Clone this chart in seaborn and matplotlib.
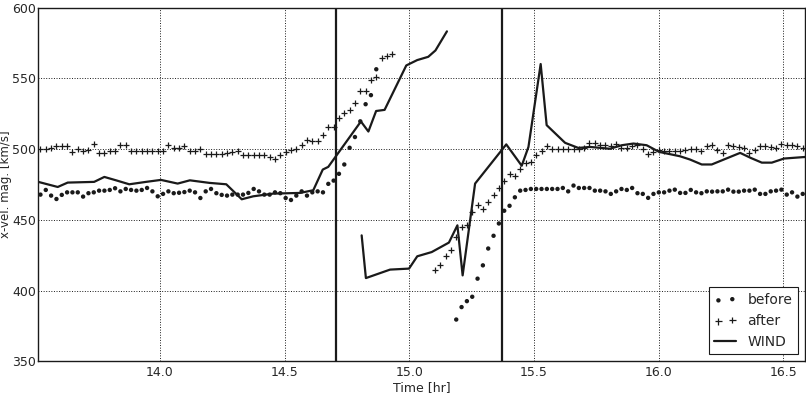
import numpy as np
import pandas as pd
import matplotlib
matplotlib.use("Agg")
import matplotlib.pyplot as plt
import seaborn as sns

# sample cadence of the spacecraft data [hr]
t_start = 13.5207
t_step = 0.02138

before = [467.9, 471.2, 467.2, 464.8, 467.7, 469.5, 469.5, 469.5, 466.5, 468.9,
          469.5, 470.7, 470.7, 471.2, 472.4, 470.2, 471.9, 471.2, 470.7, 471.2,
          472.6, 470.2, 466.7, 468.4, 470.2, 468.9, 469.2, 469.7, 470.7, 469.5,
          465.5, 470.2, 471.9, 468.9, 467.7, 467.2, 467.9, 467.9, 467.9, 469.1,
          471.9, 470.2, 467.9, 467.9, 469.5, 468.9, 465.5, 464.1, 467.2, 470.2,
          467.2, 469.5, 470.2, 469.5, 475.5, 477.8, 482.6, 489.2, 501.0, 508.6,
          519.7, 531.8, 538.2, 556.5,
          None, None, None, None, None, None, None, None, None, None, None, None, None, None,
          379.6, 388.4, 392.6, 395.7, 408.5, 417.9, 429.8, 438.8, 447.5, 456.5,
          460.0, 466.0, 470.7, 471.2, 471.9, 471.9, 471.9, 471.9, 471.9, 471.9,
          472.6, 470.2, 474.3, 472.6, 472.6, 472.6, 470.7, 470.7, 470.2, 468.4,
          470.2, 471.9, 471.2, 472.6, 468.9, 468.4, 465.6, 468.4, 469.5, 469.5,
          470.7, 471.4, 469.1, 469.1, 471.2, 469.5, 468.9, 470.2, 470.0, 470.2,
          470.2, 471.4, 470.0, 470.0, 470.7, 470.7, 471.4, 468.4, 468.4, 470.2,
          470.7, 471.4, 467.9, 469.5, 466.5, 468.4]

after = [500.3, 500.3, 501.0, 502.0, 502.0, 502.5, 498.0, 500.0, 499.0, 499.5,
         504.0, 497.5, 497.5, 499.0, 499.0, 503.0, 503.0, 498.5, 498.5, 498.5,
         498.5, 498.5, 498.5, 499.0, 503.0, 501.0, 501.0, 502.0, 498.5, 498.5,
         500.0, 496.5, 496.5, 496.5, 496.5, 497.0, 498.0, 498.6, 496.0, 495.6,
         495.6, 496.0, 496.0, 494.4, 493.0, 495.6, 498.0, 499.6, 500.4, 503.0,
         506.3, 505.5, 505.5, 510.0, 515.7, 515.7, 521.7, 525.6, 527.6, 532.7,
         541.3, 541.3, 548.9, 550.8, 564.3, 566.1, 567.3,
         None, None, None, None, None, None, None,
         414.4, 418.0, 424.6, 428.6, 438.0, 445.0, 446.6, 455.3, 460.8, 457.7,
         462.4, 467.9, 472.7, 477.8, 482.6, 481.0, 486.0, 490.0, 490.8, 495.6,
         498.6, 502.0, 500.4, 500.4, 500.4, 500.4, 500.4, 500.4, 501.0, 504.3,
         504.3, 502.7, 502.7, 502.0, 503.4, 501.0, 501.0, 502.0, 502.7, 500.4,
         496.8, 498.0, 499.7, 498.7, 498.7, 498.7, 498.7, 499.7, 500.4, 500.4,
         498.7, 502.0, 502.7, 499.7, 497.3, 502.7, 502.0, 501.5, 501.0, 497.3,
         499.1, 502.0, 502.0, 501.5, 501.0, 503.9, 502.7, 502.7, 502.0, 501.0]

wind_t1 = [13.512, 13.590, 13.630, 13.736, 13.777, 13.824, 13.877, 13.944, 14.004, 14.071,
           14.120, 14.198, 14.266, 14.328, 14.374, 14.454, 14.562, 14.615, 14.653, 14.675,
           14.806, 14.836, 14.867, 14.901, 14.988, 15.032, 15.076, 15.105, 15.151]
wind_v1 = [476.9, 473.3, 476.4, 476.9, 480.4, 478.0, 475.2, 476.9, 478.3, 475.7,
           478.0, 476.2, 475.2, 464.6, 466.7, 468.6, 469.1, 471.0, 485.6, 487.5,
           519.6, 512.5, 527.0, 527.8, 559.2, 563.0, 565.3, 569.8, 583.3]

wind_t2 = [14.809, 14.826, 14.923, 14.999, 15.032, 15.090, 15.159, 15.193, 15.214, 15.264,
           15.389, 15.451, 15.478, 15.527, 15.551, 15.625, 15.678, 15.725, 15.805, 15.852,
           15.899, 15.952, 16.002, 16.086, 16.126, 16.173, 16.213, 16.327, 16.370, 16.414,
           16.454, 16.503, 16.587]
wind_v2 = [439.1, 408.9, 414.9, 415.6, 424.3, 427.3, 434.0, 446.2, 410.8, 475.7,
           503.4, 488.3, 501.6, 560.2, 517.0, 504.5, 500.9, 501.6, 500.3, 502.8,
           504.0, 502.8, 498.1, 495.0, 492.7, 489.2, 489.2, 497.4, 493.8, 490.5,
           490.5, 493.4, 494.5]

shock_times = [14.705, 15.372]

time = t_start + t_step * np.arange(len(before))
points = pd.DataFrame({"time": time,
                       "before": pd.to_numeric(pd.Series(before), errors="coerce"),
                       "after": pd.to_numeric(pd.Series(after), errors="coerce")})
wind1 = pd.DataFrame({"time": wind_t1, "v": wind_v1})
wind2 = pd.DataFrame({"time": wind_t2, "v": wind_v2})

sns.set_theme(style="whitegrid", rc={"grid.color": "k", "grid.linestyle": ":",
                                     "grid.linewidth": 0.7, "axes.edgecolor": "k",
                                     "axes.linewidth": 1.0})
plt.rcParams["font.family"] = ["DejaVu Sans"]

fig = plt.figure(figsize=(8.06, 3.94), dpi=100)
ax = fig.add_axes([0.0475, 0.0827, 0.9512, 0.8977])

sns.scatterplot(data=points, x="time", y="before", marker="o", s=10, color="k",
                edgecolor="none", label="before", ax=ax)
sns.scatterplot(data=points, x="time", y="after", marker="+", s=22, color="k",
                linewidth=0.9, label="after", ax=ax)
sns.lineplot(data=wind1, x="time", y="v", sort=False, estimator=None, color="k",
             lw=1.6, label="WIND", ax=ax)
sns.lineplot(data=wind2, x="time", y="v", sort=False, estimator=None, color="k",
             lw=1.6, ax=ax)

for ts in shock_times:
    ax.axvline(ts, color="k", lw=1.6)

ax.set_xlim(13.512, 16.587)
ax.set_ylim(350, 600)
ax.set_xticks([14.0, 14.5, 15.0, 15.5, 16.0, 16.5])
ax.set_xticklabels(["14.0", "14.5", "15.0", "15.5", "16.0", "16.5"])
ax.set_yticks([350, 400, 450, 500, 550, 600])
ax.tick_params(labelsize=9, pad=3, direction="in", length=4, color="k")
ax.tick_params(axis="y", pad=1.5)
ax.set_xlabel("Time [hr]", fontsize=9, labelpad=2)
ax.set_ylabel("x-vel. mag. [km/s]", fontsize=8.5)
ax.yaxis.set_label_coords(-0.0337, 0.5)

handles, labels = ax.get_legend_handles_labels()
order = [labels.index(name) for name in ["before", "after", "WIND"]]
leg = ax.legend([handles[k] for k in order], ["before", "after", "WIND"],
                loc="lower right", scatterpoints=2, fontsize=10, handlelength=1.6,
                fancybox=False, framealpha=1, edgecolor="k", borderaxespad=0.5)
leg.get_frame().set_linewidth(0.8)

fig.savefig("out.png", dpi=100)
